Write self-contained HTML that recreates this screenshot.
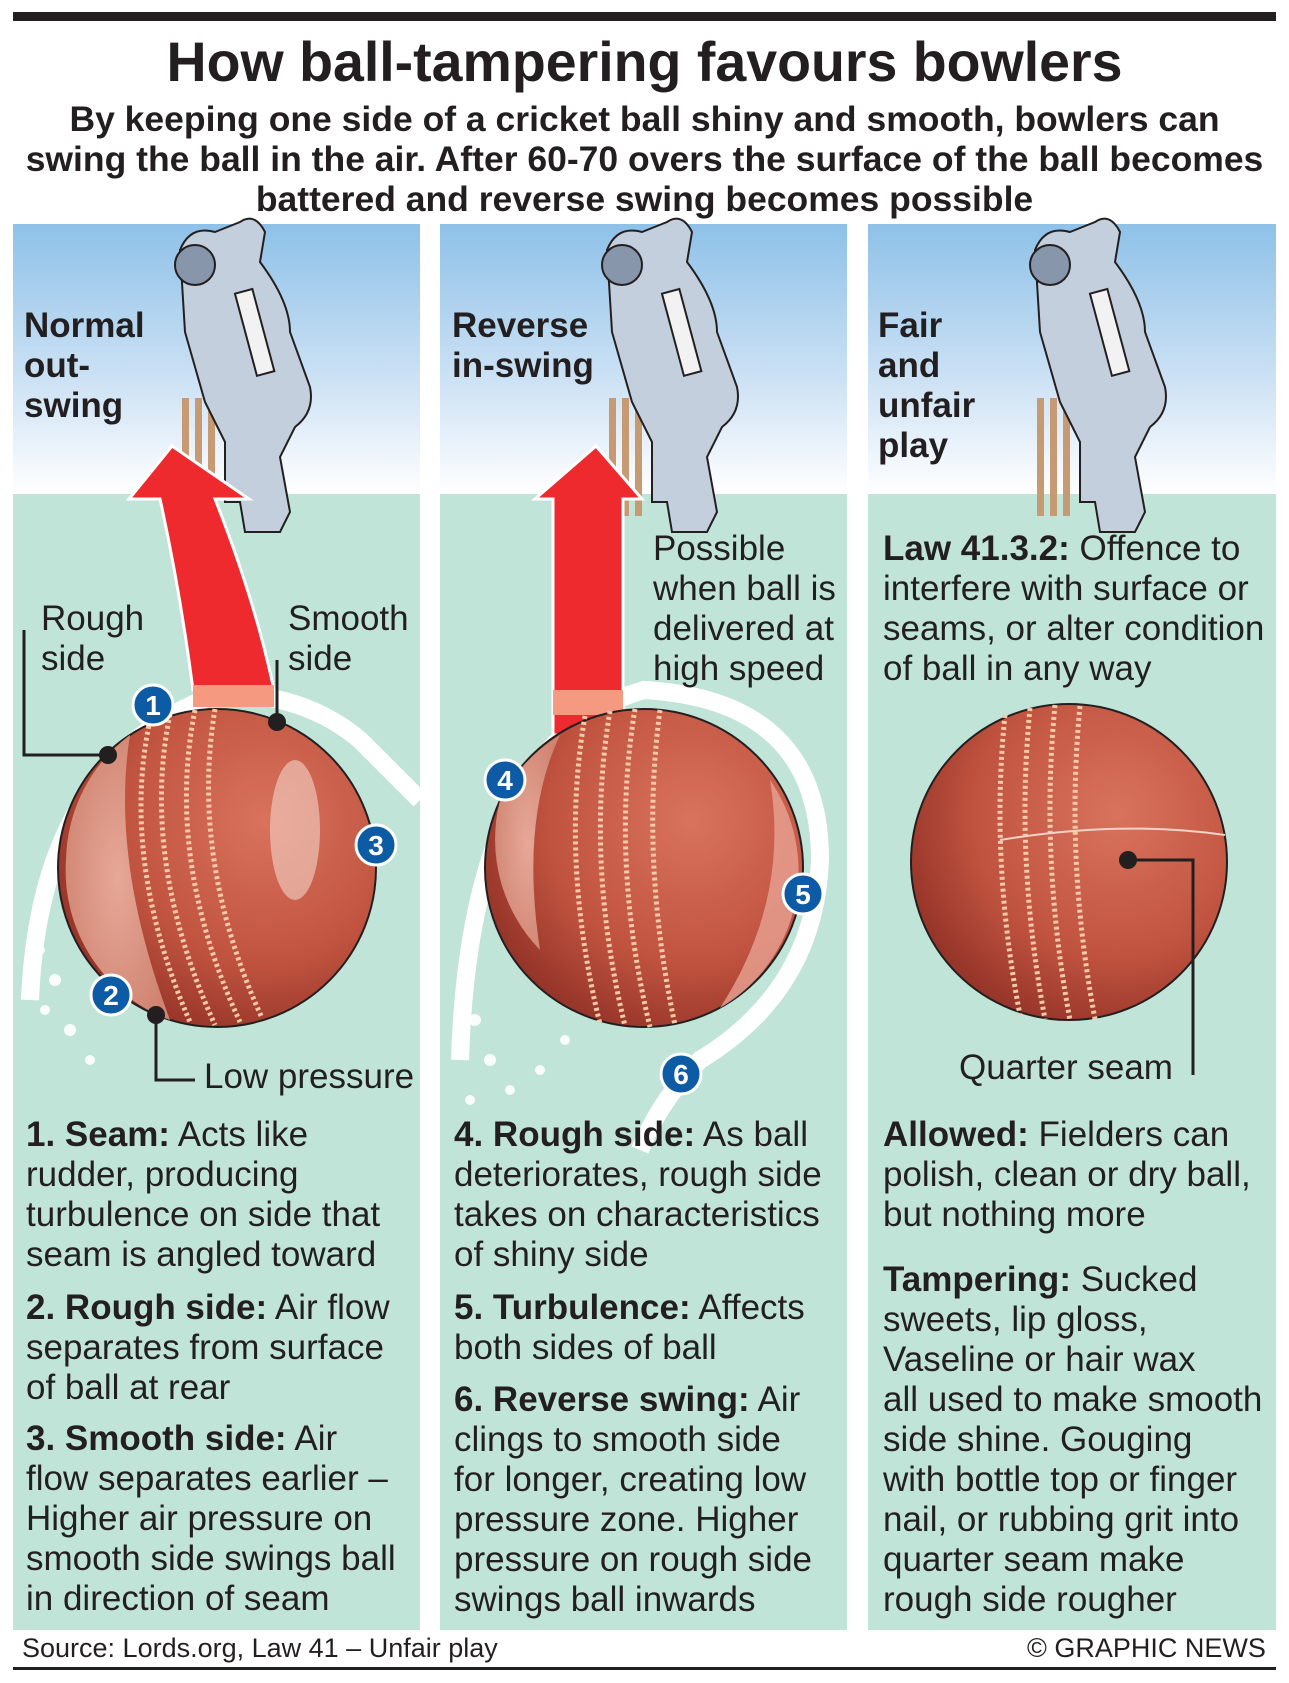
<!DOCTYPE html>
<html><head><meta charset="utf-8"><style>
body{margin:0;width:1289px;height:1683px;background:#fff;position:relative;overflow:hidden;font-family:"Liberation Sans",Arial,sans-serif;color:#231f20}
.t{position:absolute;white-space:nowrap;font-size:35px;line-height:40px}
b{font-weight:bold}
.h{position:absolute;font-weight:bold;font-size:35px;line-height:40px;white-space:nowrap}
</style></head><body>
<svg width="1289" height="1683" style="position:absolute;left:0;top:0">
<defs>
<linearGradient id="sky" x1="0" y1="0" x2="0" y2="1"><stop offset="0" stop-color="#8ec1e8"/><stop offset="0.6" stop-color="#cfe3f5"/><stop offset="1" stop-color="#ffffff"/></linearGradient>
<radialGradient id="ball" cx="0.65" cy="0.35" r="0.75"><stop offset="0" stop-color="#d9735d"/><stop offset="0.6" stop-color="#c0533f"/><stop offset="1" stop-color="#8e2f25"/></radialGradient>
<radialGradient id="rough" cx="0.5" cy="0.5" r="0.6"><stop offset="0" stop-color="#e7a898"/><stop offset="1" stop-color="#cf8370"/></radialGradient>
</defs>
<rect x="13" y="12" width="1263" height="9" fill="#231f20"/>
<rect x="13" y="1667" width="1263" height="3" fill="#231f20"/>
<g>
<rect x="13" y="224" width="407" height="270" fill="url(#sky)"/><rect x="13" y="494" width="407" height="1136" fill="#c1e4d8"/>
<rect x="440" y="224" width="407" height="270" fill="url(#sky)"/><rect x="440" y="494" width="407" height="1136" fill="#c1e4d8"/>
<rect x="868" y="224" width="408" height="270" fill="url(#sky)"/><rect x="868" y="494" width="408" height="1136" fill="#c1e4d8"/>
</g>
<g id="bat">
<rect x="182" y="398" width="7" height="118" fill="#c69a72"/><rect x="195" y="398" width="7" height="118" fill="#c69a72"/><rect x="208" y="398" width="7" height="118" fill="#c69a72"/>
<path d="M180 250 q10-25 35-18 l25-10 q15-10 25 10 l-5 30 q30 40 30 70 l20 55 q5 25-15 40 l-15 30 10 55 -10 20 -35 0 -5-30 -15 0 0-60 -20-40 -20-70 z" fill="#c3cfdc" stroke="#231f20" stroke-width="2"/>
<circle cx="195" cy="265" r="20" fill="#8796aa" stroke="#231f20" stroke-width="2"/>
<rect x="245" y="290" width="18" height="85" fill="#f2f2f2" stroke="#231f20" stroke-width="2" transform="rotate(-15 254 330)"/>
</g>
<use href="#bat" x="427" y="0"/>
<use href="#bat" x="855" y="0"/>
<path d="M30 1000 Q40 760 215 695 Q300 690 360 740 L420 800" fill="none" stroke="#fff" stroke-width="18"/>
<path d="M460 1060 Q470 740 644 690 Q820 700 820 860 Q815 990 700 1060 Q660 1100 640 1150" fill="none" stroke="#fff" stroke-width="18"/>
<g fill="#fff" opacity="0.9">
<circle cx="40" cy="950" r="5"/><circle cx="55" cy="980" r="6"/><circle cx="45" cy="1010" r="5"/><circle cx="70" cy="1030" r="6"/><circle cx="90" cy="1060" r="5"/>
<circle cx="475" cy="1020" r="6"/><circle cx="490" cy="1060" r="6"/><circle cx="510" cy="1090" r="5"/><circle cx="540" cy="1070" r="5"/><circle cx="470" cy="1100" r="5"/><circle cx="565" cy="1040" r="5"/>
</g>
<path d="M193 690 Q180 590 160 499 L129 499 L172 446 L249 499 L215 499 Q255 600 274 690 Z" fill="#ee2a2f" stroke="#fff" stroke-width="3"/>
<rect x="193" y="685" width="81" height="22" fill="#f59a80"/>
<path d="M553 735 L553 499 L535 499 L596 446 L642 499 L623 499 L623 735 Z" fill="#ee2a2f" stroke="#fff" stroke-width="3"/>
<rect x="553" y="690" width="70" height="25" fill="#f59a80"/>
<g>
<circle cx="217" cy="868" r="159" fill="url(#ball)" stroke="#231f20" stroke-width="2"/>
<path d="M66 860 A159 159 0 0 1 130 735 Q110 860 170 1020 A159 159 0 0 1 66 860Z" fill="url(#rough)"/>
<g fill="none" stroke="#f3c9a8" stroke-width="5" stroke-dasharray="3 3">
<path d="M150 720 Q120 860 190 1022"/><path d="M170 714 Q140 860 215 1025"/><path d="M195 710 Q165 860 240 1022"/><path d="M215 709 Q190 860 262 1018"/>
</g>
<ellipse cx="295" cy="830" rx="25" ry="70" fill="#f3d3c8" opacity="0.6"/>
</g>
<g>
<circle cx="644" cy="868" r="159" fill="url(#ball)" stroke="#231f20" stroke-width="2"/>
<path d="M500 800 A159 159 0 0 1 560 735 Q520 820 540 950 A159 159 0 0 1 500 800Z" fill="url(#rough)"/>
<path d="M770 780 A159 159 0 0 1 720 1008 Q790 900 770 780Z" fill="#e8a393" opacity="0.8"/>
<g fill="none" stroke="#f3c9a8" stroke-width="5" stroke-dasharray="3 3">
<path d="M585 716 Q560 860 600 1024"/><path d="M610 711 Q585 860 625 1026"/><path d="M635 709 Q610 860 650 1027"/><path d="M660 710 Q640 860 675 1025"/>
</g>
</g>
<g>
<circle cx="1069" cy="862" r="158" fill="url(#ball)" stroke="#231f20" stroke-width="2"/>
<g fill="none" stroke="#f3c9a8" stroke-width="5" stroke-dasharray="3 3">
<path d="M1005 715 Q990 860 1020 1015"/><path d="M1030 708 Q1015 860 1045 1019"/><path d="M1055 705 Q1040 860 1070 1020"/><path d="M1080 706 Q1065 860 1095 1019"/>
</g>
<path d="M1000 840 Q1120 820 1225 835" stroke="#f3d3c8" stroke-width="2" fill="none"/>
<circle cx="1128" cy="860" r="9" fill="#231f20"/>
<path d="M1128 860 H1193 V1075" fill="none" stroke="#231f20" stroke-width="3"/>
</g>
<g stroke="#231f20" stroke-width="3" fill="none">
<path d="M24 630 V755 H108"/><path d="M277 660 V720"/><path d="M156 1015 V1080 H195"/>
</g>
<g fill="#231f20"><circle cx="108" cy="755" r="9"/><circle cx="277" cy="722" r="9"/><circle cx="156" cy="1015" r="9"/></g>
<g font-family="Liberation Sans, Arial, sans-serif" font-weight="bold" font-size="28" fill="#fff" text-anchor="middle">
<g><circle cx="153" cy="705" r="20" fill="#0d5aa5" stroke="#fff" stroke-width="3"/><text x="153" y="715">1</text></g>
<g><circle cx="111" cy="995" r="20" fill="#0d5aa5" stroke="#fff" stroke-width="3"/><text x="111" y="1005">2</text></g>
<g><circle cx="376" cy="845" r="20" fill="#0d5aa5" stroke="#fff" stroke-width="3"/><text x="376" y="855">3</text></g>
<g><circle cx="505" cy="780" r="20" fill="#0d5aa5" stroke="#fff" stroke-width="3"/><text x="505" y="790">4</text></g>
<g><circle cx="803" cy="894" r="20" fill="#0d5aa5" stroke="#fff" stroke-width="3"/><text x="803" y="904">5</text></g>
<g><circle cx="681" cy="1074" r="20" fill="#0d5aa5" stroke="#fff" stroke-width="3"/><text x="681" y="1084">6</text></g>
</g>
</svg>

<div style="position:absolute;left:0;width:1289px;top:30px;text-align:center;font-weight:bold;font-size:55.5px;line-height:64px">How ball-tampering favours bowlers</div>
<div style="position:absolute;left:0;width:1289px;top:99px;text-align:center;font-weight:bold;font-size:35.5px;line-height:40px;white-space:nowrap">By keeping one side of a cricket ball shiny and smooth, bowlers can<br>swing the ball in the air. After 60-70 overs the surface of the ball becomes<br>battered and reverse swing becomes possible</div>

<div class="h" style="left:24px;top:306px">Normal<br>out-<br>swing</div>
<div class="h" style="left:452px;top:306px">Reverse<br>in-swing</div>
<div class="h" style="left:878px;top:306px">Fair<br>and<br>unfair<br>play</div>

<div class="t" style="left:41px;top:599px">Rough<br>side</div>
<div class="t" style="left:288px;top:599px">Smooth<br>side</div>
<div class="t" style="left:204px;top:1057px">Low pressure</div>
<div class="t" style="left:653px;top:529px">Possible<br>when ball is<br>delivered at<br>high speed</div>
<div class="t" style="left:883px;top:529px"><b>Law 41.3.2:</b> Offence to<br>interfere with surface or<br>seams, or alter condition<br>of ball in any way</div>
<div class="t" style="left:959px;top:1048px">Quarter seam</div>

<div class="t" style="left:26px;top:1115px"><b>1. Seam:</b> Acts like<br>rudder, producing<br>turbulence on side that<br>seam is angled toward</div>
<div class="t" style="left:26px;top:1288px"><b>2. Rough side:</b> Air flow<br>separates from surface<br>of ball at rear</div>
<div class="t" style="left:26px;top:1419px"><b>3. Smooth side:</b> Air<br>flow separates earlier –<br>Higher air pressure on<br>smooth side swings ball<br>in direction of seam</div>

<div class="t" style="left:454px;top:1115px"><b>4. Rough side:</b> As ball<br>deteriorates, rough side<br>takes on characteristics<br>of shiny side</div>
<div class="t" style="left:454px;top:1288px"><b>5. Turbulence:</b> Affects<br>both sides of ball</div>
<div class="t" style="left:454px;top:1380px"><b>6. Reverse swing:</b> Air<br>clings to smooth side<br>for longer, creating low<br>pressure zone. Higher<br>pressure on rough side<br>swings ball inwards</div>

<div class="t" style="left:883px;top:1115px"><b>Allowed:</b> Fielders can<br>polish, clean or dry ball,<br>but nothing more</div>
<div class="t" style="left:883px;top:1260px"><b>Tampering:</b> Sucked<br>sweets, lip gloss,<br>Vaseline or hair wax<br>all used to make smooth<br>side shine. Gouging<br>with bottle top or finger<br>nail, or rubbing grit into<br>quarter seam make<br>rough side rougher</div>

<div class="t" style="left:22px;top:1633px;font-size:27px;line-height:30px">Source: Lords.org, Law 41 – Unfair play</div>
<div class="t" style="left:1027px;top:1633px;font-size:27px;line-height:30px">© GRAPHIC NEWS</div>
</body></html>
